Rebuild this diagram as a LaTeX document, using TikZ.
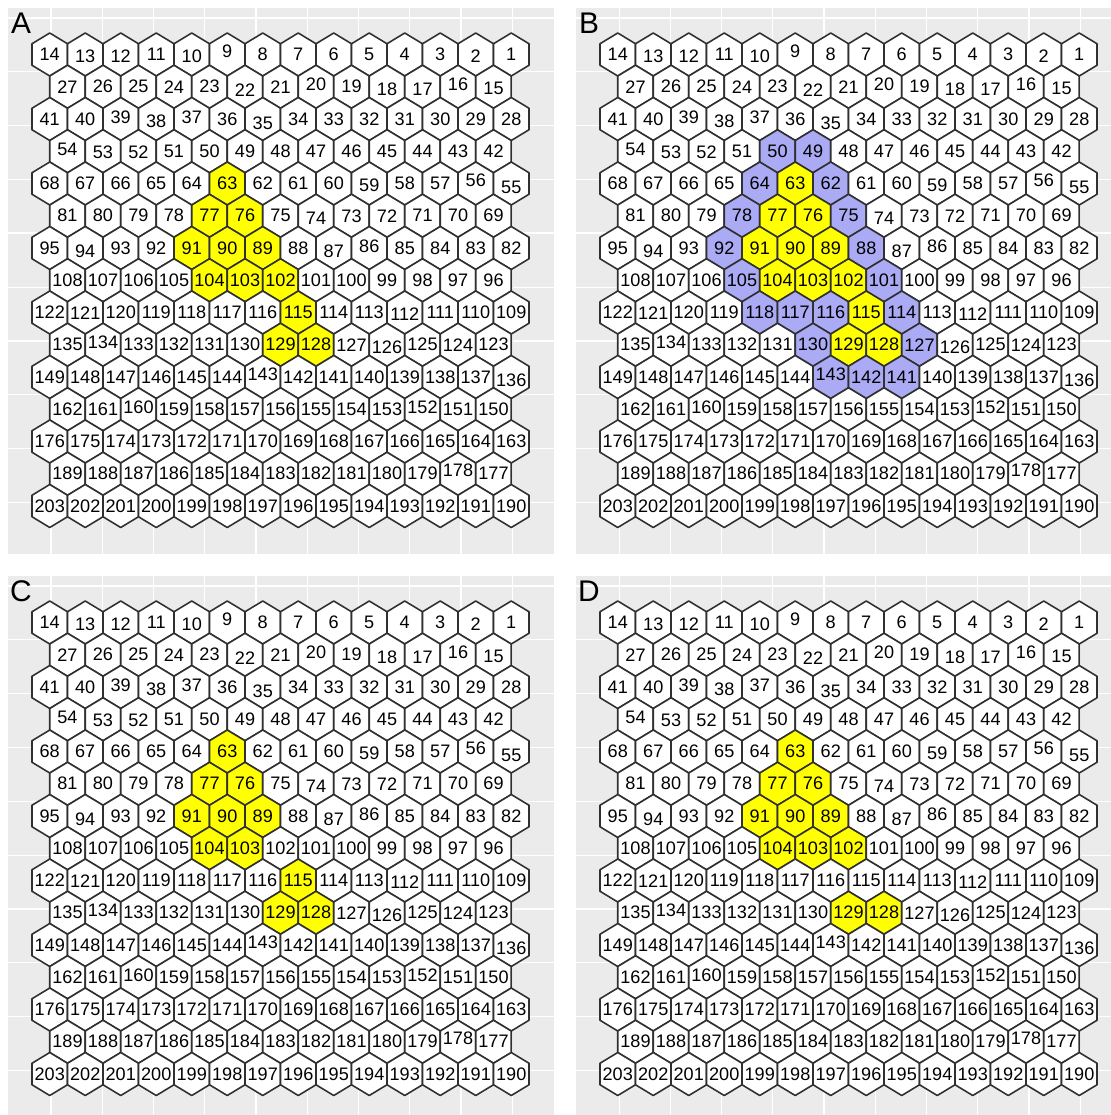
\documentclass[tikz,border=0pt]{standalone}
\usepackage{fontspec}
\setmainfont{Liberation Sans}
\usepackage{xcolor}
\definecolor{panelbg}{HTML}{EBEBEB}
\definecolor{hexline}{HTML}{303030}
\definecolor{hexyellow}{HTML}{FFFF00}
\definecolor{hexblue}{HTML}{AAAAF5}

% cells of one panel that get a fill colour
\newcommand{\markcells}[3]{%
  \foreach \k in {#3} {\expandafter\xdef\csname cell-#1-\k\endcsname{#2}}}
\markcells{A}{hexyellow}{63,76,77,89,90,91,102,103,104,115,128,129}
\markcells{B}{hexyellow}{63,76,77,89,90,91,102,103,104,115,128,129}
\markcells{B}{hexblue}{49,50,62,64,75,78,88,92,101,105,114,116,117,118,127,130,141,142,143}
\markcells{C}{hexyellow}{63,76,77,89,90,91,103,104,115,128,129}
\markcells{D}{hexyellow}{63,76,77,89,90,91,102,103,104,128,129}
% labels that sit a little off centre (px, down is positive)
\newcommand{\shiftlabels}[1]{%
  \foreach \k/\d in {#1} {\expandafter\xdef\csname dy-\k\endcsname{\d}}}
\shiftlabels{13/2,12/2,10/2,9/-3,2/2,22/3,20/-2,18/3,17/3,16/-2,15/2,
  39/-2,38/2,37/-2,35/4,54/-2,53/1,52/1,56/-3,55/4,94/3,87/3,86/-2,74/3,
  73/1,59/2,143/-3,136/3,126/3,112/2,178/-3,152/-2,134/-2,121/1,160/-2}

\begin{document}
\begin{tikzpicture}[x=0.02cm, y=-0.02cm,
  hexcell/.style={draw=hexline, line width=0.9pt, line join=round},
  celllabel/.style={inner sep=0pt, font=\fontsize{10.3}{12}\selectfont},
  panellabel/.style={inner sep=0pt, font=\fontsize{17}{20}\selectfont},
  majorgrid/.style={white, line width=0.8pt},
  minorgrid/.style={white, line width=0.4pt}]
  \useasboundingbox (0,0) rectangle (1111,1115);
  \clip (0,0) rectangle (1111,1115);
  \foreach \p/\ox/\oy in {A/0/0, B/568/0, C/0/568, D/568/568} {
    % panel
    \fill[panelbg] (\ox+8,\oy+8) rectangle (\ox+554,\oy+554);
    % grid
    \foreach \g in {0,2,4,6,8} {
      \draw[majorgrid] (\ox+51.2+\g*51.2,\oy+8) -- (\ox+51.2+\g*51.2,\oy+554);
      \draw[minorgrid] (\ox+102.4+\g*51.2,\oy+8) -- (\ox+102.4+\g*51.2,\oy+554);
    }
    \foreach \g in {0,2,4,6,8} {
      \draw[majorgrid] (\ox+8,\oy+18+\g*53.8) -- (\ox+554,\oy+18+\g*53.8);
      \draw[minorgrid] (\ox+8,\oy+71.8+\g*53.8) -- (\ox+554,\oy+71.8+\g*53.8);
    }
    % hexagons, numbered right to left
    \foreach \r in {1,...,15} {
      \pgfmathtruncatemacro\odd{mod(\r,2)}
      \pgfmathtruncatemacro\cnt{\odd==1 ? 14 : 13}
      \pgfmathtruncatemacro\first{\odd==1 ? 27*(\r-1)/2+1 : 27*\r/2-12}
      \foreach \j in {1,...,\cnt} {
        \pgfmathtruncatemacro\n{\first+\cnt-\j}
        \pgfmathsetmacro\cx{\ox+49.75+(\j-1)*35.5+(1-\odd)*17.75}
        \pgfmathsetmacro\cy{\oy+54.5+(\r-1)*32.25}
        \ifcsname cell-\p-\n\endcsname
          \edef\fc{\csname cell-\p-\n\endcsname}
        \else
          \def\fc{white}
        \fi
        \ifcsname dy-\n\endcsname
          \edef\dy{\csname dy-\n\endcsname}
        \else
          \def\dy{0}
        \fi
        \draw[hexcell, fill=\fc] (\cx,\cy) ++(0,-21.5) -- ++(17.75,10.75) -- ++(0,21.5)
          -- ++(-17.75,10.75) -- ++(-17.75,-10.75) -- ++(0,-21.5) -- cycle;
        \node[celllabel] (\p-\n) at (\cx,\cy+\dy) {\n};
      }
    }
    \node[panellabel] (lab-\p) at (\ox+21,\oy+23) {\p};
  }
\end{tikzpicture}
\end{document}
